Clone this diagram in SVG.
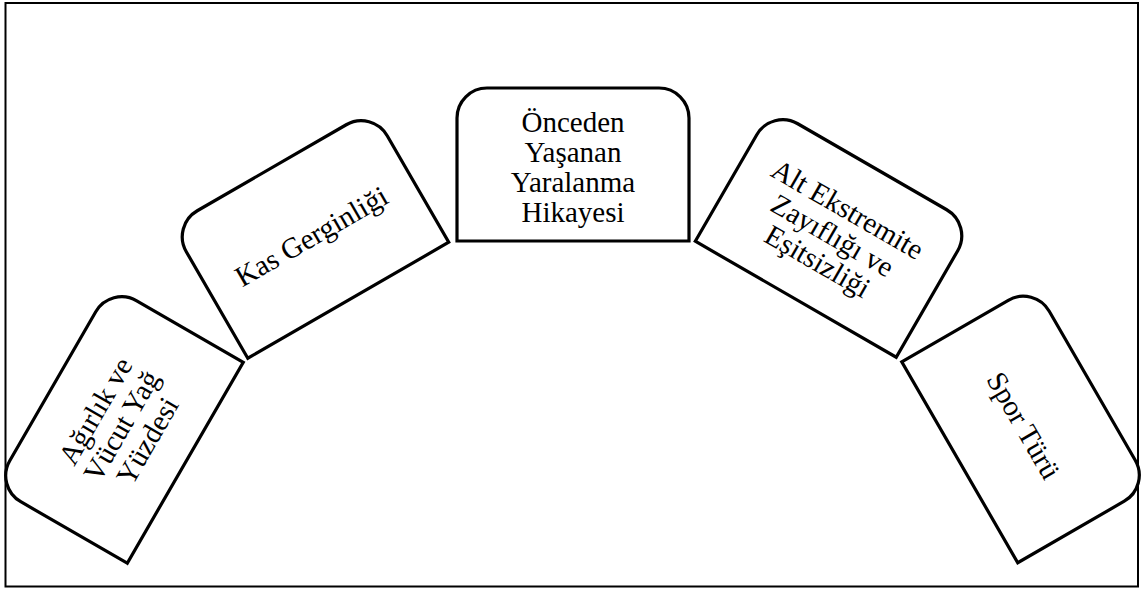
<svg xmlns="http://www.w3.org/2000/svg" xmlns:xlink="http://www.w3.org/1999/xlink" width="1141" height="589" viewBox="0 0 1141 589">
<style>
.frame{fill:#fff;stroke:#000;stroke-width:2}
.box{fill:#fff;stroke:#000;stroke-width:3.2;stroke-linejoin:miter}
.lbl{font-family:"Liberation Serif","Times New Roman",serif;font-size:29px;fill:#000;text-anchor:middle}
</style>
<defs>
<path id="shape" d="M -116,76.5 L -116,-46.5 A 30 30 0 0 1 -86,-76.5 L 86,-76.5 A 30 30 0 0 1 116,-46.5 L 116,76.5 Z"/>
</defs>
<rect class="frame" x="5.5" y="3" width="1132.5" height="583.5"/>
<g id="connectors"/>
<g id="node-agirlik" transform="translate(119,424.5) rotate(-60)">
<use href="#shape" xlink:href="#shape" class="box"/>
<text class="lbl"><tspan x="0" y="-17.5">Ağırlık ve</tspan><tspan x="0" y="12.5">Vücut Yağ</tspan><tspan x="0" y="42.5">Yüzdesi</tspan></text>
</g>
<g id="node-kas" transform="translate(310,234) rotate(-30)">
<use href="#shape" xlink:href="#shape" class="box"/>
<text class="lbl" x="0" y="12.5">Kas Gerginliği</text>
</g>
<g id="node-onceden" transform="translate(573,164.5)">
<use href="#shape" xlink:href="#shape" class="box"/>
<text class="lbl"><tspan x="0" y="-32.5">Önceden</tspan><tspan x="0" y="-2.5">Yaşanan</tspan><tspan x="0" y="27.5">Yaralanma</tspan><tspan x="0" y="57.5">Hikayesi</tspan></text>
</g>
<g id="node-alt" transform="translate(834,233) rotate(30)">
<use href="#shape" xlink:href="#shape" class="box"/>
<text class="lbl"><tspan x="0" y="-17.5">Alt Ekstremite</tspan><tspan x="0" y="12.5">Zayıflığı ve</tspan><tspan x="0" y="42.5">Eşitsizliği</tspan></text>
</g>
<g id="node-spor" transform="translate(1026,424) rotate(60)">
<use href="#shape" xlink:href="#shape" class="box"/>
<text class="lbl" x="0" y="12.5">Spor Türü</text>
</g>
</svg>
